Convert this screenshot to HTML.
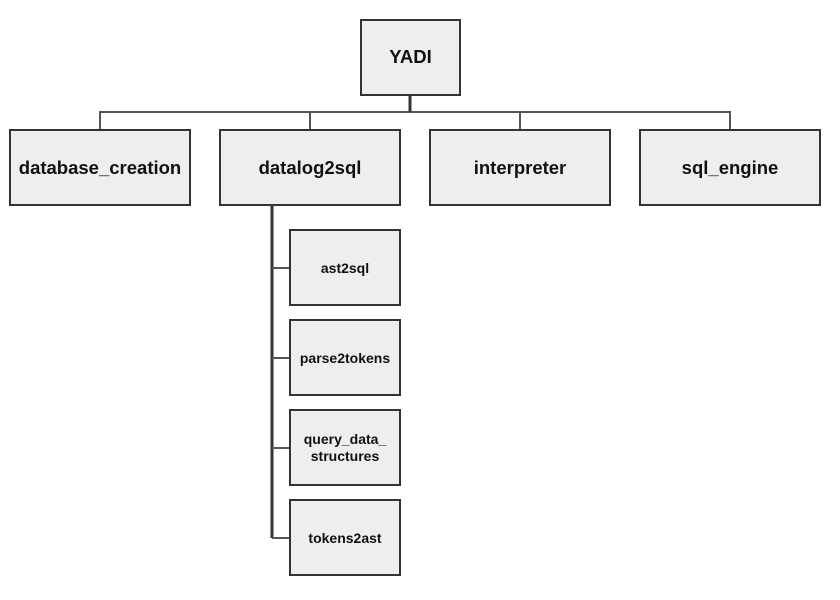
<!DOCTYPE html>
<html><head><meta charset="utf-8"><style>
html,body{margin:0;padding:0;background:#fff;}
svg text{font-family:"Liberation Sans",Arial,sans-serif;font-weight:bold;fill:#111;}
</style></head><body>
<svg width="840" height="595" viewBox="0 0 840 595" xmlns="http://www.w3.org/2000/svg">
<g stroke="#555" stroke-width="2" fill="none">
<path d="M100 130V112H730V130M310 112V130M520 112V130"/>
<path d="M410 95V112" stroke="#333" stroke-width="3"/>
<path d="M272 205V538" stroke="#333" stroke-width="3"/>
<path d="M272 268H290M272 358H290M272 448H290M272 538H290"/>
</g>
<g fill="#eeeeee" stroke="#333" stroke-width="2">
<rect x="361" y="20" width="99" height="75"/>
<rect x="10" y="130" width="180" height="75"/>
<rect x="220" y="130" width="180" height="75"/>
<rect x="430" y="130" width="180" height="75"/>
<rect x="640" y="130" width="180" height="75"/>
<rect x="290" y="230" width="110" height="75"/>
<rect x="290" y="320" width="110" height="75"/>
<rect x="290" y="410" width="110" height="75"/>
<rect x="290" y="500" width="110" height="75"/>
</g>
<g text-anchor="middle" font-size="18.5">
<text x="410.5" y="63">YADI</text>
<text x="100" y="174">database_creation</text>
<text x="310" y="174">datalog2sql</text>
<text x="520" y="174">interpreter</text>
<text x="730" y="174">sql_engine</text>
</g>
<g text-anchor="middle" font-size="14">
<text x="345" y="273">ast2sql</text>
<text x="345" y="363">parse2tokens</text>
<text x="345" y="444">query_data_</text>
<text x="345" y="461">structures</text>
<text x="345" y="543">tokens2ast</text>
</g>
</svg>
</body></html>
